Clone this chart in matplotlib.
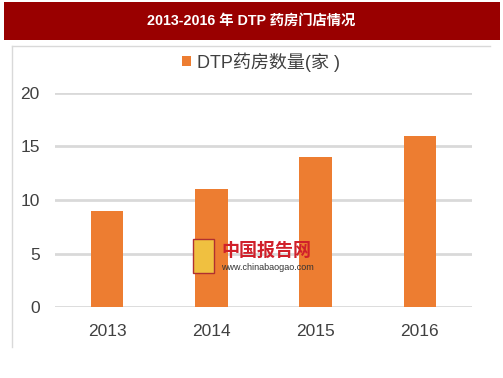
import matplotlib
matplotlib.use("Agg")
import matplotlib.pyplot as plt
from matplotlib.patches import Rectangle

plt.rcParams['font.family'] = ['Liberation Sans', 'Noto Sans CJK SC', 'DejaVu Sans']

title = "2013-2016 年 DTP 药房门店情况"
series_name = "DTP药房数量(家 )"
years = ["2013", "2014", "2015", "2016"]
values = [9, 11, 14, 16]
yticks = [0, 5, 10, 15, 20]

W, H = 503, 378
fig = plt.figure(figsize=(W / 100, H / 100), dpi=100)
fig.patch.set_facecolor("white")

def fx(x):
    return x / W

def fy(y):
    return 1 - y / H

# Title banner
fig.patches.append(Rectangle((fx(4), fy(40)), fx(496), 38 / H, transform=fig.transFigure,
                             facecolor="#990000", edgecolor="none", zorder=0))
fig.text(fx(251), fy(21), title, color="white", fontsize=10.3, fontweight="bold",
         ha="center", va="center")

# Chart frame lines (top and left)
fig.add_artist(plt.Line2D([fx(12), fx(490)], [fy(46), fy(46)], color="#d9d9d9", lw=1,
                          transform=fig.transFigure))
fig.add_artist(plt.Line2D([fx(12), fx(12)], [fy(46), fy(347)], color="#d9d9d9", lw=1,
                          transform=fig.transFigure))

ax = fig.add_axes([fx(55), fy(307), fx(472) - fx(55), (307 - 93) / H])
x = range(len(years))
bars = ax.bar(x, values, width=0.31, color="#ED7D31", zorder=3, label=series_name)
ax.set_xlim(-0.5, len(years) - 0.5)
ax.set_ylim(0, 20)
ax.set_yticks(yticks)
ax.set_yticklabels([str(v) for v in yticks])
ax.set_xticks(list(x))
ax.set_xticklabels(years)
for s in ax.spines.values():
    s.set_visible(False)
ax.grid(axis="y", color="#d9d9d9", lw=2, zorder=0)
ax.set_axisbelow(True)
ax.tick_params(axis="both", length=0, labelsize=12.5, colors="#404040")
ax.tick_params(axis="y", pad=11)
ax.tick_params(axis="x", pad=12)
ax.set_facecolor("none")

leg = fig.legend(handles=[bars], labels=[series_name], loc="center",
                 bbox_to_anchor=(fx(261), fy(62)), frameon=False, fontsize=13,
                 handlelength=0.5, handleheight=0.5, handletextpad=0.3)
for t in leg.get_texts():
    t.set_color("#404040")

# Watermark
fig.patches.append(Rectangle((fx(193), fy(273)), 21 / W, 34 / H, transform=fig.transFigure,
                             facecolor="#f0c040", edgecolor="#b03030", lw=1, zorder=5))
fig.text(fx(221), fy(251), "中国报告网", color="#d0202a", fontsize=13, fontweight="bold",
         ha="left", va="center", zorder=6)
fig.text(fx(221), fy(267), "www.chinabaogao.com", color="#333333", fontsize=6.5,
         ha="left", va="center", zorder=6)

fig.savefig("out.png", dpi=100)
